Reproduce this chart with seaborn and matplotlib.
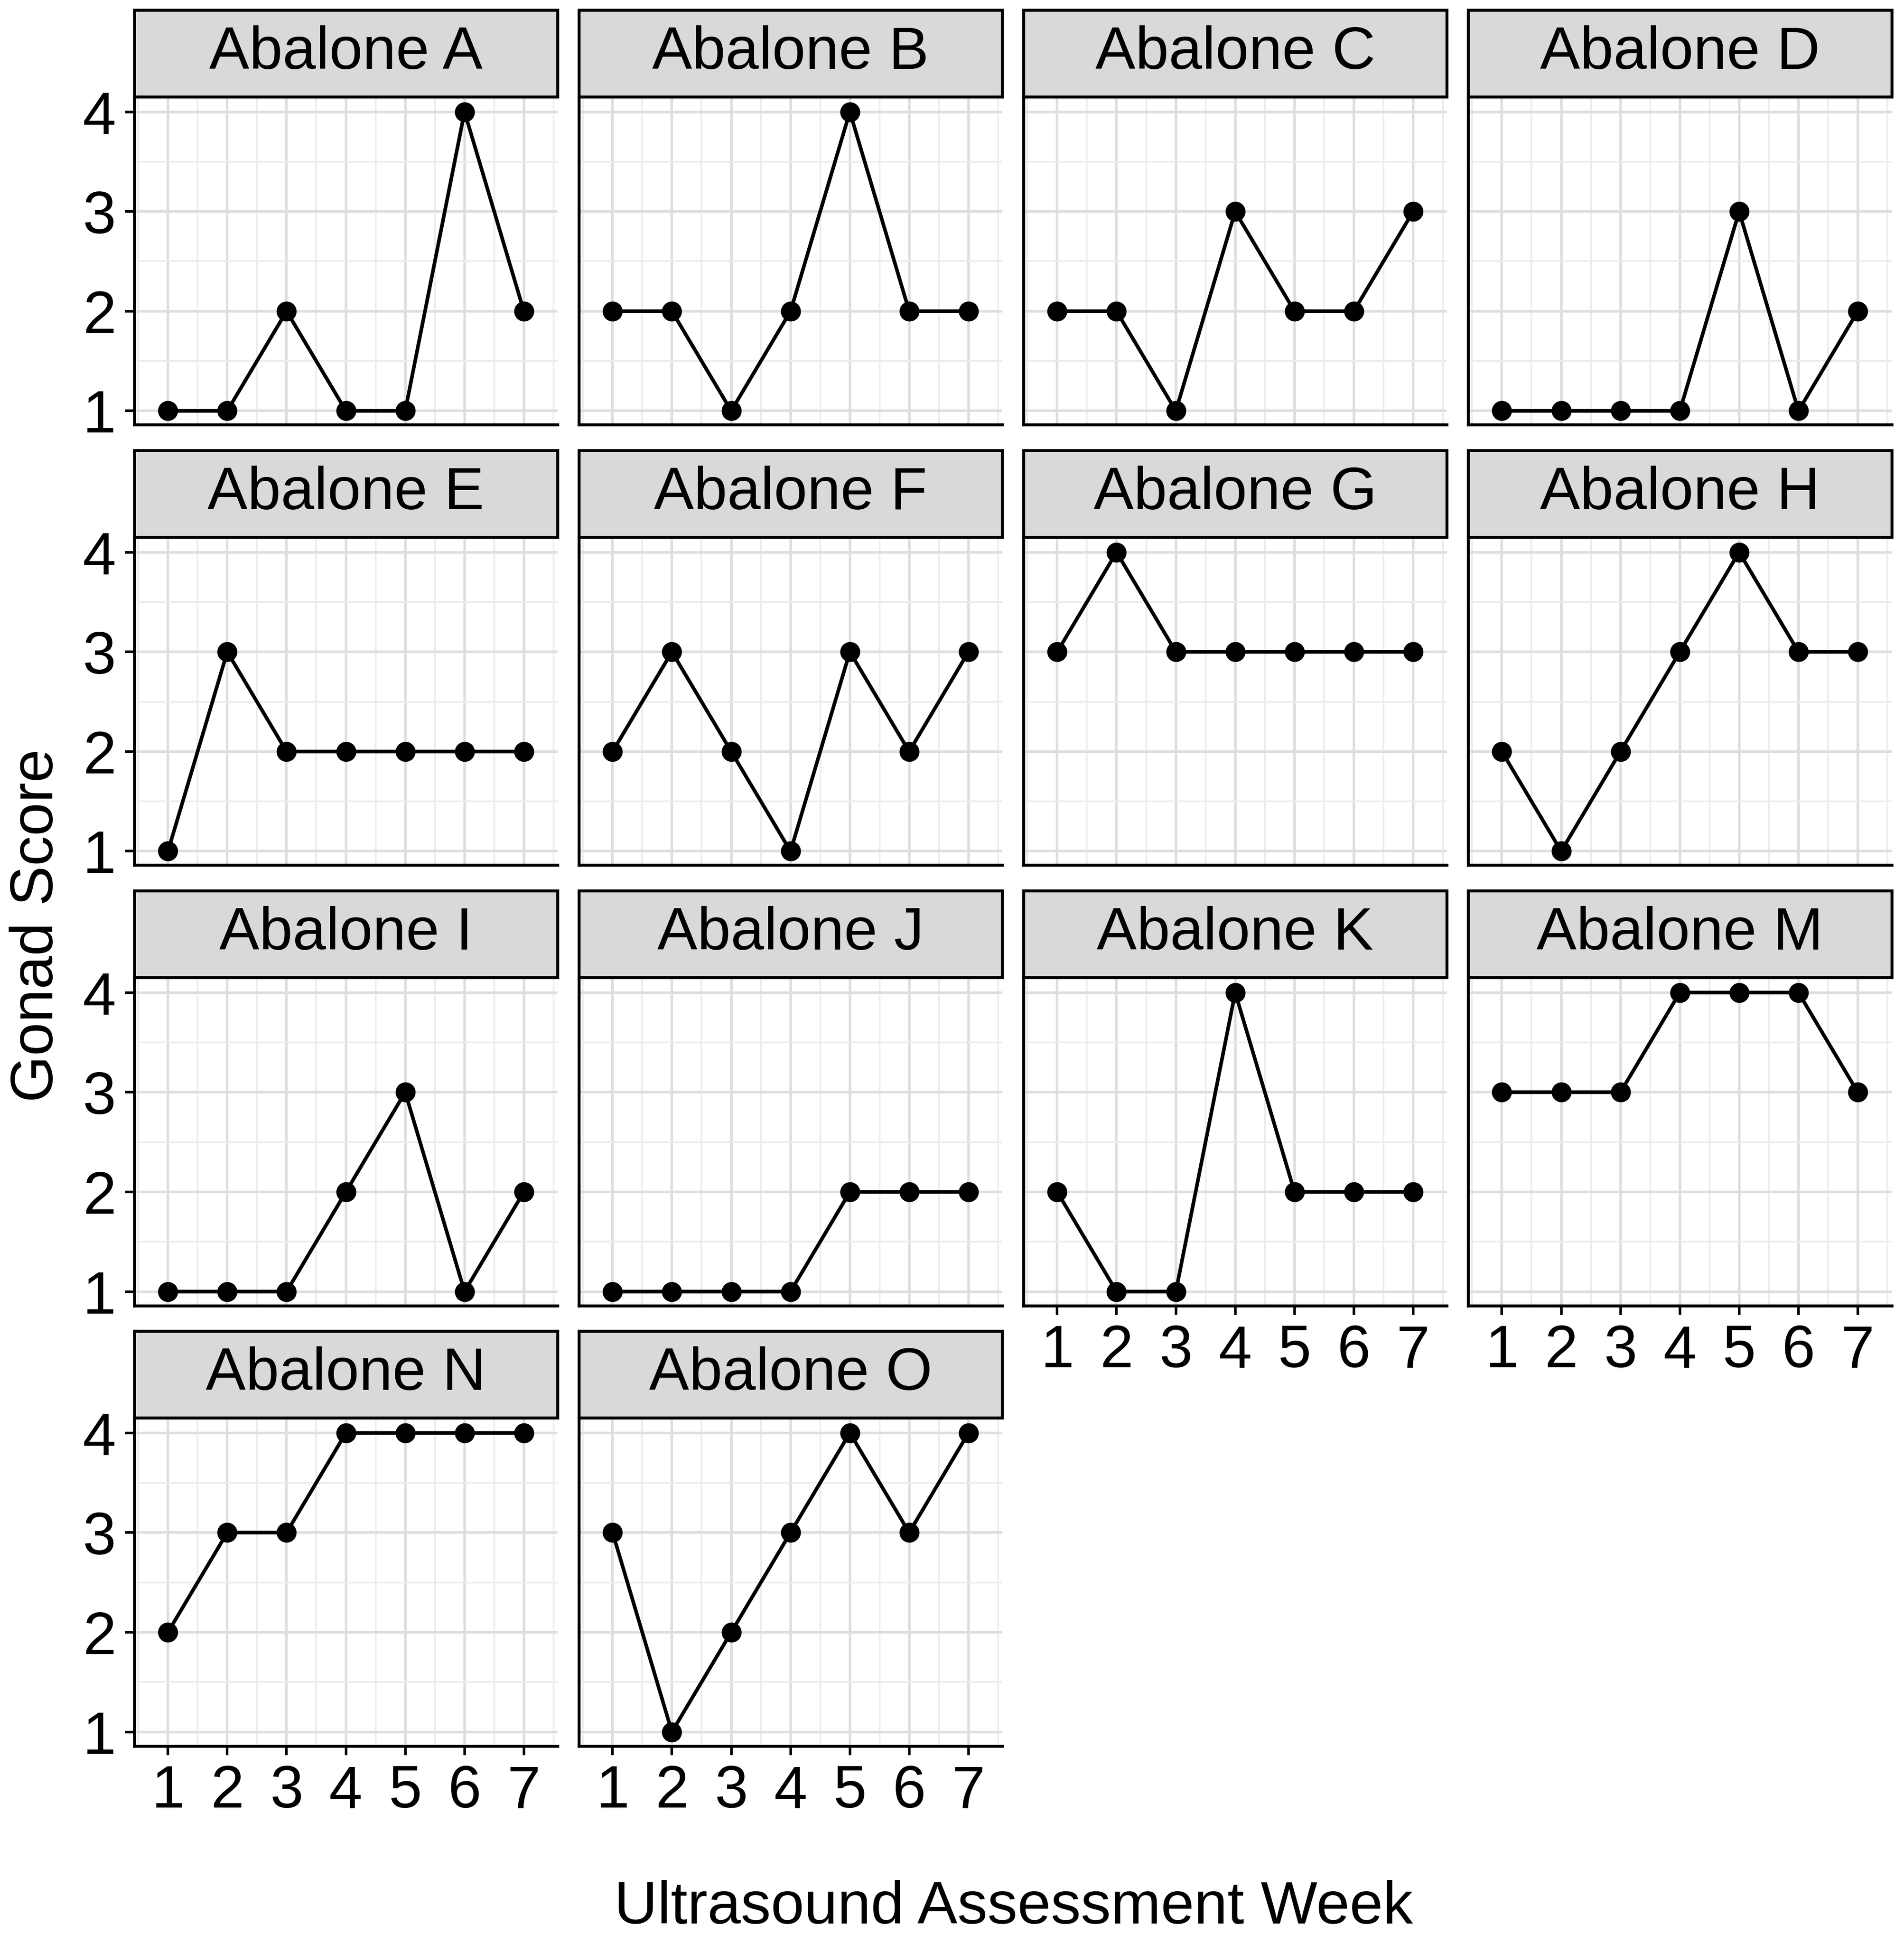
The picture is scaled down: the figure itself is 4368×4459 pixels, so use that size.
import numpy as np
import pandas as pd
import matplotlib
matplotlib.use("Agg")
import matplotlib.pyplot as plt
import seaborn as sns
from matplotlib.patches import Rectangle
from matplotlib.ticker import MultipleLocator

sns.set_theme(style="white")
plt.rcParams["font.family"] = ["Liberation Sans", "DejaVu Sans"]

weeks = [1, 2, 3, 4, 5, 6, 7]
score_ticks = [1, 2, 3, 4]

abalone_A = [1, 1, 2, 1, 1, 4, 2]
abalone_B = [2, 2, 1, 2, 4, 2, 2]
abalone_C = [2, 2, 1, 3, 2, 2, 3]
abalone_D = [1, 1, 1, 1, 3, 1, 2]
abalone_E = [1, 3, 2, 2, 2, 2, 2]
abalone_F = [2, 3, 2, 1, 3, 2, 3]
abalone_G = [3, 4, 3, 3, 3, 3, 3]
abalone_H = [2, 1, 2, 3, 4, 3, 3]
abalone_I = [1, 1, 1, 2, 3, 1, 2]
abalone_J = [1, 1, 1, 1, 2, 2, 2]
abalone_K = [2, 1, 1, 4, 2, 2, 2]
abalone_M = [3, 3, 3, 4, 4, 4, 3]
abalone_N = [2, 3, 3, 4, 4, 4, 4]
abalone_O = [3, 1, 2, 3, 4, 3, 4]

labels = ["Abalone A", "Abalone B", "Abalone C", "Abalone D", "Abalone E",
          "Abalone F", "Abalone G", "Abalone H", "Abalone I", "Abalone J",
          "Abalone K", "Abalone M", "Abalone N", "Abalone O"]
series = [abalone_A, abalone_B, abalone_C, abalone_D, abalone_E, abalone_F,
          abalone_G, abalone_H, abalone_I, abalone_J, abalone_K, abalone_M,
          abalone_N, abalone_O]

df = pd.DataFrame({
    "Abalone": np.repeat(labels, len(weeks)),
    "Week": weeks * len(labels),
    "Score": np.concatenate(series),
})

g = sns.relplot(data=df, x="Week", y="Score", col="Abalone", col_wrap=4,
                col_order=labels, kind="line", marker="o", color="black",
                linewidth=2.0, markersize=11, markeredgewidth=0,
                errorbar=None, height=3, aspect=1)
fig = g.figure
fig.set_size_inches(4368 / 300, 4459 / 300)
g.set_titles("")
g.set_axis_labels("", "")

# layout measured on the reference (display px)
W, H = 1533, 1565
fs = 33
for i, ax in enumerate(g.axes.flat):
    r, c = divmod(i, 4)
    left = (108 + c * 358) / W
    top = (78 + r * 354.5) / H
    ax.set_position([left, 1 - top - 264 / H, 341 / W, 264 / H])
    ax.set_xlim(0.43, 7.57)
    ax.set_ylim(0.86, 4.15)
    ax.set_xticks(weeks)
    ax.set_yticks(score_ticks)
    ax.xaxis.set_minor_locator(MultipleLocator(0.5))
    ax.yaxis.set_minor_locator(MultipleLocator(0.5))
    ax.grid(which="major", color="#dedede", lw=1.4)
    ax.grid(which="minor", color="#ececec", lw=0.9)
    ax.set_axisbelow(True)
    for sp in ax.spines.values():
        sp.set_color("black")
        sp.set_linewidth(1.6)
    show_x = i >= 10
    show_y = c == 0
    ax.tick_params(which="major", direction="out", length=5, width=1.4,
                   color="black", labelsize=fs, labelcolor="black", pad=5,
                   bottom=show_x, labelbottom=show_x,
                   left=show_y, labelleft=show_y)
    ax.tick_params(which="minor", length=0)
    sh = 70 / 264
    ax.add_patch(Rectangle((0, 1), 1, sh, transform=ax.transAxes,
                           facecolor="#d9d9d9", edgecolor="black", lw=1.6,
                           clip_on=False, zorder=5))
    ax.text(0.5, 1 + sh / 2, labels[i], transform=ax.transAxes,
            ha="center", va="center", fontsize=fs, color="black", zorder=6)

fig.text(816 / W, 1 - 1536 / H, "Ultrasound Assessment Week",
         ha="center", va="center", fontsize=fs, color="black")
fig.text(30 / W, 1 - 745 / H, "Gonad Score", rotation=90,
         ha="center", va="center", fontsize=fs, color="black")

fig.savefig("out.png", dpi=300)
